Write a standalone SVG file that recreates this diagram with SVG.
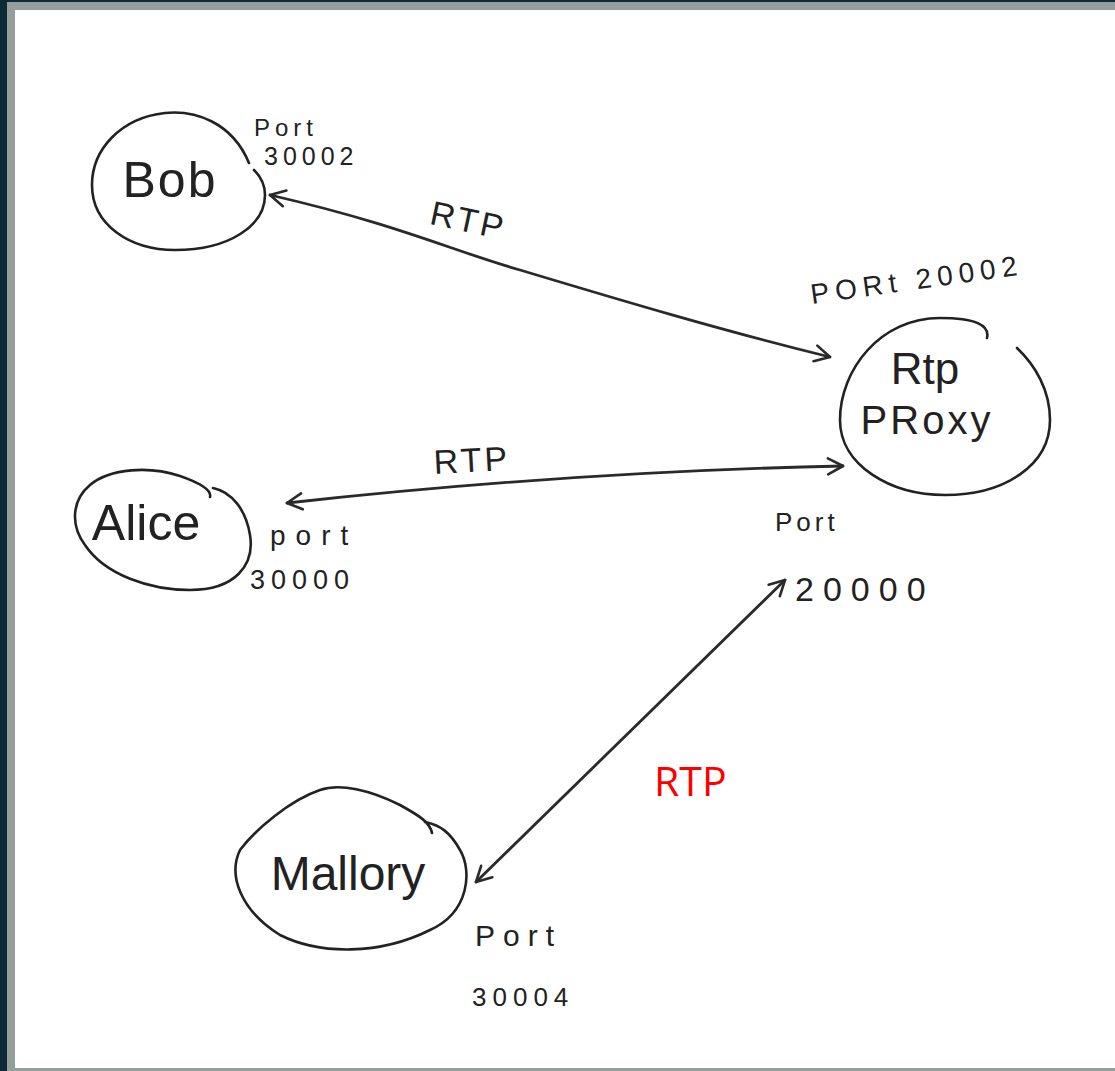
<svg xmlns="http://www.w3.org/2000/svg" width="1115" height="1071" viewBox="0 0 1115 1071">
<style>
.node{fill:none;stroke:#222;stroke-width:2.6;stroke-linecap:round;stroke-linejoin:round}
.conn{fill:none;stroke:#2a2a2a;stroke-width:2.8;stroke-linecap:round}
.hand{font-family:"Liberation Sans","DejaVu Sans",sans-serif;fill:#222}
.port{font-family:"Liberation Sans","DejaVu Sans",sans-serif;fill:#222}
.red{font-family:"Open Sans","Roboto",sans-serif;fill:#ff0000;font-size:41px}
</style>
<defs>
<marker id="ah" viewBox="0 0 20 20" refX="18" refY="10" markerWidth="20" markerHeight="20" markerUnits="userSpaceOnUse" orient="auto-start-reverse">
<path d="M3,2 L18,10 L3,18" fill="none" stroke="#2a2a2a" stroke-width="2.6" stroke-linecap="round" stroke-linejoin="round"/>
</marker>
</defs>
<rect x="0" y="0" width="1115" height="1071" fill="#0c2b36"/>
<rect x="7" y="2" width="1108" height="1069" fill="#949f9d"/>
<rect x="15" y="10" width="1100" height="1058" fill="#ffffff"/>

<g id="connectors">
<path class="conn" d="M 270 195 C 400 225 450 250 520 270 C 620 300 720 330 830 357" marker-start="url(#ah)" marker-end="url(#ah)"/>
<path class="conn" d="M 287 503 C 450 485 650 470 843 466" marker-start="url(#ah)" marker-end="url(#ah)"/>
<path class="conn" d="M 476 882 L 785 580" marker-start="url(#ah)" marker-end="url(#ah)"/>
<text class="hand" x="468" y="232" font-size="34" text-anchor="middle" letter-spacing="3" transform="rotate(12 468 222)">RTP</text>
<text class="hand" x="472" y="472" font-size="34" text-anchor="middle" letter-spacing="3" transform="rotate(-3 472 462)">RTP</text>
<text class="red" x="654" y="796">RTP</text>
</g>

<g id="bob">
<path class="node" d="M 249 163 C 232 122 195 110 165 113 C 120 118 92 150 92 185 C 92 225 130 250 175 250 C 230 250 265 225 265 195 C 265 185 260 176 254 170"/>
<text class="hand" x="170" y="197" font-size="50" text-anchor="middle" letter-spacing="2">Bob</text>
<text class="port" x="254" y="136" font-size="24" letter-spacing="5">Port</text>
<text class="port" x="264" y="165" font-size="25" letter-spacing="5">30002</text>
</g>

<g id="rtp-proxy">
<path class="node" d="M 987 338 C 990 325 975 318 940 318 C 880 318 840 370 840 420 C 840 465 890 495 945 495 C 1005 495 1050 465 1050 420 C 1050 390 1035 365 1017 348"/>
<text class="hand" x="925" y="384" font-size="44" text-anchor="middle">Rtp</text>
<text class="hand" x="927" y="434" font-size="40" text-anchor="middle" letter-spacing="3">PRoxy</text>
<text class="port" x="812" y="304" font-size="28" letter-spacing="6" transform="rotate(-8 812 304)">PORt 20002</text>
<text class="port" x="775" y="531" font-size="26" letter-spacing="4">Port</text>
<text class="port" x="795" y="601" font-size="34" letter-spacing="9">20000</text>
</g>

<g id="alice">
<path class="node" d="M 210 497 C 212 490 200 483 180 476 C 150 466 110 468 90 485 C 72 500 70 525 85 545 C 105 575 150 590 190 590 C 235 590 255 565 250 535 C 246 510 232 492 213 488"/>
<text class="hand" x="146" y="540" font-size="50" text-anchor="middle">Alice</text>
<text class="port" x="270" y="545" font-size="28" letter-spacing="10">port</text>
<text class="port" x="250" y="589" font-size="27" letter-spacing="6">30000</text>
</g>

<g id="mallory">
<path class="node" d="M 432 833 C 430 822 418 815 400 805 C 370 790 340 783 320 790 C 290 800 255 830 240 850 C 228 875 240 910 280 935 C 320 955 380 955 430 930 C 470 912 472 870 460 850 C 450 832 440 825 425 822"/>
<text class="hand" x="348" y="890" font-size="48" text-anchor="middle">Mallory</text>
<text class="port" x="475" y="946" font-size="30" letter-spacing="8">Port</text>
<text class="port" x="472" y="1006" font-size="26" letter-spacing="6">30004</text>
</g>
</svg>
